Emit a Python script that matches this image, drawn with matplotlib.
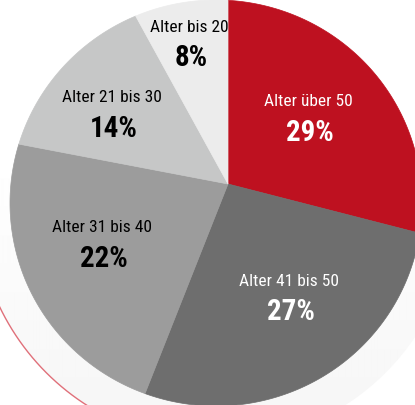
import numpy as np
import matplotlib
matplotlib.use("Agg")
from matplotlib import pyplot as plt
from matplotlib import font_manager
from matplotlib.patches import Polygon, Circle

labels = ["Alter über 50", "Alter 41 bis 50", "Alter 31 bis 40",
          "Alter 21 bis 30", "Alter bis 20"]
shares = [29, 27, 22, 14, 8]
colors = ["#be1120", "#6e6e6e", "#9c9c9c", "#c6c7c7", "#ececec"]
text_colors = ["white", "white", "black", "black", "black"]
# label anchor positions (pixels, y down)
label_pos = [(308, 102), (289, 281), (102, 228), (112, 98), (189, 27)]


# pick the narrowest installed sans face we can find
def pick_font():
    names = sorted({f.name for f in font_manager.fontManager.ttflist})
    prefs = ["Noto Sans ExtraCondensed", "Noto Sans Condensed", "DejaVu Sans Condensed",
             "Liberation Sans Narrow", "Roboto Condensed", "Open Sans Condensed",
             "Noto Sans SemiCondensed"]
    for p in prefs:
        if p in names:
            return p, "normal"
    for f in font_manager.fontManager.ttflist:
        if f.stretch in ("condensed", "extra-condensed", "ultra-condensed", 500 - 200):
            return f.name, f.stretch
    return "Roboto", "normal"


fam, stretch = pick_font()
plt.rcParams['font.family'] = [fam, 'DejaVu Sans']

W, H = 415, 405
fig = plt.figure(figsize=(W / 100, H / 100), dpi=100)
ax = fig.add_axes([0, 0, 1, 1])
ax.set_xlim(0, W)
ax.set_ylim(H, 0)
ax.set_aspect('equal')
ax.axis('off')

# apex of the wedges and the slightly offset elliptical outline
apex = np.array([228.0, 184.0])
cx, cy, a, b = 216.0, 203.0, 206.0, 203.0

# soft background disc (white at top, pale grey at bottom) and thin red ring
disc = Circle((cx, cy), 240, fc="none", ec="none")
ax.add_patch(disc)
yy = np.arange(H)
grad = np.clip(1.0 - 0.035 * (yy - 150) / (H - 150), 0.965, 1.0)[:, None] * np.ones((1, 2))
bg = ax.imshow(grad, cmap="gray", vmin=0, vmax=1, extent=[0, W, H, 0],
               aspect='auto', zorder=0, interpolation='bilinear')
bg.set_clip_path(disc)
t = np.radians(np.linspace(105, 170, 200))
ax.plot(cx + 240 * np.cos(t), cy + 240 * np.sin(t), color="#e0707a", lw=1.0, zorder=1)


def edge_point(theta):
    # ray from apex (math angle, y up) hitting the ellipse
    d = np.array([np.cos(theta), -np.sin(theta)])
    p = np.array([(apex[0] - cx) / a, (apex[1] - cy) / b])
    q = np.array([d[0] / a, d[1] / b])
    A = q @ q
    B = 2 * p @ q
    C = p @ p - 1
    s = (-B + np.sqrt(B * B - 4 * A * C)) / (2 * A)
    return apex + s * d


start = 90.0
for share, col in zip(shares, colors):
    end = start - share / sum(shares) * 360
    angs = np.radians(np.linspace(start, end, 120))
    pts = [apex] + [edge_point(th) for th in angs]
    ax.add_patch(Polygon(pts, closed=True, fc=col, ec=col, lw=0.5, zorder=2))
    start = end

# size the texts so they roughly fit the reference widths
renderer = fig.canvas.get_renderer()
probe = ax.text(0, 0, "Alter 31 bis 40", fontsize=14, fontstretch=stretch)
lab_size = min(14, 14 * 100 / probe.get_window_extent(renderer).width)
probe.remove()
probe = ax.text(0, 0, "22%", fontsize=24, fontweight='bold', fontstretch=stretch)
pct_size = min(24, 24 * 48 / probe.get_window_extent(renderer).width)
probe.remove()

for lab, share, (x, y), tc in zip(labels, shares, label_pos, text_colors):
    ax.text(x, y, lab, color=tc, fontsize=lab_size, fontstretch=stretch,
            ha='center', va='center', zorder=3)
    ax.text(x + 2, y + 31, f"{share}%", color=tc, fontsize=pct_size, fontweight='bold',
            fontstretch=stretch, ha='center', va='center', zorder=3)

fig.savefig("out.png", dpi=100, facecolor="white")
